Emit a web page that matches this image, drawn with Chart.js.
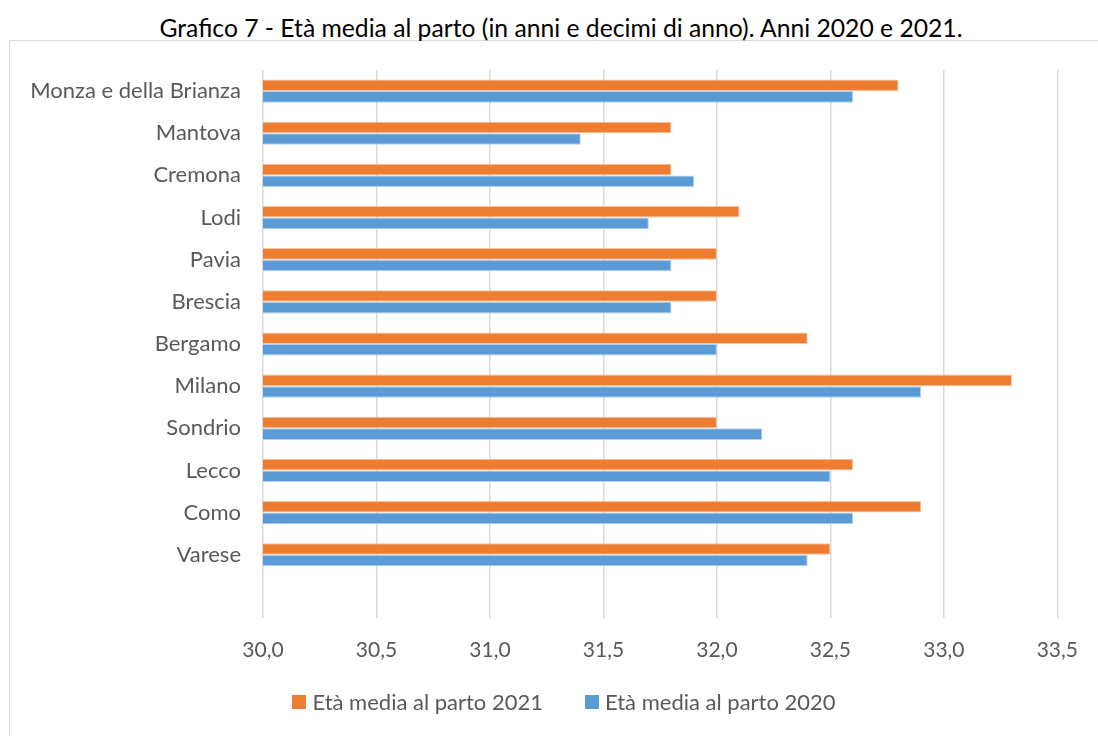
<!DOCTYPE html>
<html lang="it">
<head>
    <meta charset="UTF-8">
    <title>Grafico 7 - Età media al parto</title>
    <style>
        html, body {
            margin: 0;
            padding: 0;
            background: #ffffff;
            overflow: hidden;
            font-family: Lato, sans-serif;
        }
        .frame {
            position: absolute;
            left: 9px;
            top: 40px;
            width: 1200px;
            height: 800px;
            border: 1px solid #d9d9d9;
        }
        .title {
            position: absolute;
            left: 0;
            top: 13px;
            width: 1122px;
            text-align: center;
            font-size: 24.7px;
            color: #000000;
        }
        .wrap {
            position: absolute;
            left: 0;
            top: 0;
            width: 1098px;
            height: 736px;
        }
        .legend {
            position: absolute;
            left: 0;
            top: 688px;
            width: 1128px;
            display: flex;
            justify-content: center;
            gap: 42px;
            font-size: 22px;
            color: #595959;
        }
        .legend span {
            display: flex;
            align-items: center;
        }
        .legend i {
            display: inline-block;
            width: 14px;
            height: 14px;
            margin-right: 6px;
        }
    </style>
    <script src="https://cdn.jsdelivr.net/npm/chart.js"></script>
</head>
<body>

<div class="frame"></div>
<div class="title">Grafico 7 - Età media al parto (in anni e decimi di anno). Anni 2020 e 2021.</div>
<div class="wrap"><canvas id="barChart"></canvas></div>
<div class="legend" id="legend"></div>

<script>
    // provinces, top to bottom (last slot is left empty, as in the original)
    const province = ['Monza e della Brianza', 'Mantova', 'Cremona', 'Lodi', 'Pavia', 'Brescia',
        'Bergamo', 'Milano', 'Sondrio', 'Lecco', 'Como', 'Varese', ''];
    const eta2021 = [32.8, 31.8, 31.8, 32.1, 32.0, 32.0, 32.4, 33.3, 32.0, 32.6, 32.9, 32.5, null];
    const eta2020 = [32.6, 31.4, 31.9, 31.7, 31.8, 31.8, 32.0, 32.9, 32.2, 32.5, 32.6, 32.4, null];
    const xMin = 30;
    const xMax = 33.5;
    const xStep = 0.5;

    const grigio = '#595959';
    const font = { family: 'Lato, sans-serif', size: 22 };
    const fontTicks = { family: 'Lato, sans-serif', size: 21 };

    const ctx = document.getElementById('barChart').getContext('2d');
    const chart = new Chart(ctx, {
        type: 'bar',
        data: {
            labels: province,
            datasets: [{
                label: 'Età media al parto 2021',
                data: eta2021,
                backgroundColor: '#ED7D31',
                borderColor: '#F6C4A3',
                borderWidth: 1,
                categoryPercentage: 0.55,
                barPercentage: 1
            }, {
                label: 'Età media al parto 2020',
                data: eta2020,
                backgroundColor: '#5B9BD5',
                borderColor: '#B4D0EC',
                borderWidth: 1,
                categoryPercentage: 0.55,
                barPercentage: 1
            }]
        },
        options: {
            indexAxis: 'y',
            responsive: true,
            maintainAspectRatio: false,
            animation: false,
            layout: {
                padding: { top: 70, right: 39, bottom: 68, left: 0 }
            },
            plugins: {
                legend: { display: false },
                tooltip: { enabled: false }
            },
            scales: {
                x: {
                    min: xMin,
                    max: xMax,
                    afterFit: scale => { scale.height = 50; },
                    ticks: {
                        stepSize: xStep,
                        font: fontTicks,
                        color: grigio,
                        padding: 20,
                        callback: v => v.toFixed(1).replace('.', ',')
                    },
                    grid: { color: '#D9D9D9', lineWidth: 1.5, drawTicks: false },
                    border: { display: false }
                },
                y: {
                    afterFit: scale => { scale.width = 263; },
                    ticks: {
                        font: font,
                        color: grigio,
                        padding: 22
                    },
                    grid: { display: false, drawTicks: false },
                    border: { display: false }
                }
            }
        }
    });

    // legend built from the chart's own datasets
    const legend = document.getElementById('legend');
    chart.data.datasets.forEach(ds => {
        const item = document.createElement('span');
        const box = document.createElement('i');
        box.style.background = ds.backgroundColor;
        item.appendChild(box);
        item.appendChild(document.createTextNode(ds.label));
        legend.appendChild(item);
    });
</script>

</body>
</html>
